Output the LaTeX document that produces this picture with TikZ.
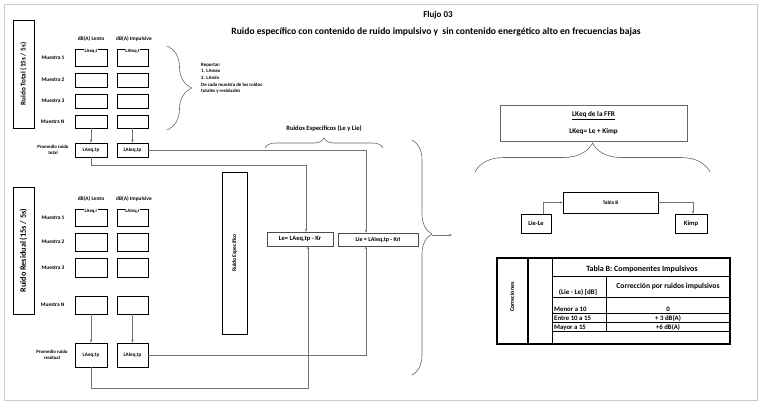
\documentclass[tikz,border=0pt]{standalone}
\usepackage{fontspec}
\setmainfont{Carlito}
\usetikzlibrary{arrows.meta,decorations.pathreplacing}
\newcommand{\tam}[2]{\fontsize{#1}{#2}\selectfont\bfseries}

\begin{document}
\begin{tikzpicture}[x=1pt,y=-1pt,
  caja/.style={draw,line width=0.7pt,inner sep=1pt},
  linea/.style={draw=black!55,line width=0.5pt},
  flecha/.style={linea,-{Stealth[length=3pt,width=2.4pt]}},
  llave/.style={draw=black!60,line width=0.6pt,decorate,decoration={brace,amplitude=#1}},
  muestra/.style={anchor=east,font=\tam{5.4}{6}},
  etiq/.style={fill=white,inner sep=0.8pt,font=\tam{4.8}{5}},
  fila/.style={inner sep=0pt,font=\tam{6.8}{7}},
]
\useasboundingbox (0,0) rectangle (767,408);
\draw[black!20,line width=0.8pt] (4,4) rectangle (757,400);

% titulo
\node[font=\tam{9}{10}] (titulo) at (438,15) {Flujo 03};
\node[font=\tam{9.6}{11}] (subtitulo) at (436,32) {Ruido específico con contenido de ruido impulsivo y \ sin contenido energético alto en frecuencias bajas};

% ruido total
\node[caja,rotate=90,minimum width=108,minimum height=21,font=\tam{7.2}{8}] (rtotal) at (23.5,74) {Ruido Total (15s / 5s)};
\node[font=\tam{5.4}{6}] (hlentoT) at (91,39) {dB(A) Lento};
\node[font=\tam{5.4}{6}] (himpT) at (134,39) {dB(A) Impulsivo};

\node[muestra] (m1T) at (68,57.5) {Muestra 1};
\node[muestra] (m2T) at (68,80) {Muestra 2};
\node[muestra] (m3T) at (68,101) {Muestra 3};
\node[muestra] (mNT) at (68,121.5) {Muestra N};

\node[caja,minimum width=32,minimum height=17] (t1a) at (91,57.5) {};
\node[caja,minimum width=31,minimum height=17] (t1i) at (132.5,57.5) {};
\node[etiq] (t1aLab) at (91,51) {LAeq,t};
\node[etiq] (t1iLab) at (132.5,51) {LAIeq,t};
\node[caja,minimum width=32,minimum height=14] (t2a) at (91,80) {};
\node[caja,minimum width=31,minimum height=14] (t2i) at (132.5,80) {};
\node[caja,minimum width=32,minimum height=14] (t3a) at (91,101) {};
\node[caja,minimum width=31,minimum height=14] (t3i) at (132.5,101) {};
\node[caja,minimum width=32,minimum height=13] (tNa) at (91,121.5) {};
\node[caja,minimum width=31,minimum height=13] (tNi) at (132.5,121.5) {};

\node[caja,minimum width=32,minimum height=14,font=\tam{5.2}{6}] (ptA) at (91,150) {LAeq,tp};
\node[caja,minimum width=31,minimum height=14,font=\tam{5.2}{6}] (ptI) at (132.5,150) {LAIeq,tp};
\node[align=center,font=\tam{4.8}{6.5}] (promT) at (53,150) {Promedio ruido\\total};

\draw[flecha] (tNa) -- (ptA);
\draw[flecha] (tNi) -- (ptI);

\draw[llave=25] (167,46) -- (167,130);
\node[anchor=north west,align=left,inner sep=0pt,font=\tam{4.9}{6.6}] (reportar) at (201,63)
  {Reportar:\\1. LAmax\\2. LAmin\\De cada muestra de los ruidos\\totales y residuales};

% ruido residual
\node[caja,rotate=90,minimum width=127,minimum height=21,font=\tam{8.2}{9}] (rres) at (23.5,250.5) {Ruido Residual (15s / 5s)};
\node[font=\tam{5.4}{6}] (hlentoR) at (91,199) {dB(A) Lento};
\node[font=\tam{5.4}{6}] (himpR) at (134,199) {dB(A) Impulsivo};

\node[muestra] (m1R) at (68,217.5) {Muestra 1};
\node[muestra] (m2R) at (68,242) {Muestra 2};
\node[muestra] (m3R) at (68,267.5) {Muestra 3};
\node[muestra] (mNR) at (68,305) {Muestra N};

\node[caja,minimum width=32,minimum height=17] (r1a) at (91,217.5) {};
\node[caja,minimum width=31,minimum height=17] (r1i) at (132.5,217.5) {};
\node[etiq] (r1aLab) at (91,211) {LAeq,r};
\node[etiq] (r1iLab) at (132.5,211) {LAIeq,r};
\node[caja,minimum width=32,minimum height=18] (r2a) at (91,242) {};
\node[caja,minimum width=31,minimum height=18] (r2i) at (132.5,242) {};
\node[caja,minimum width=32,minimum height=19] (r3a) at (91,267.5) {};
\node[caja,minimum width=31,minimum height=19] (r3i) at (132.5,267.5) {};
\node[caja,minimum width=32,minimum height=18] (rNa) at (91,305) {};
\node[caja,minimum width=31,minimum height=18] (rNi) at (132.5,305) {};

\node[caja,minimum width=32,minimum height=24,font=\tam{5.2}{6}] (prA) at (91,355) {LAeq,tp};
\node[caja,minimum width=31,minimum height=24,font=\tam{5.2}{6}] (prI) at (132.5,355) {LAIeq,tp};
\node[align=center,font=\tam{4.8}{6.5}] (promR) at (52,355) {Promedio ruido\\residual};

\draw[flecha] (rNa) -- (prA);
\draw[flecha] (rNi) -- (prI);

% ruido especifico
\node[caja,rotate=90,minimum width=162,minimum height=25,font=\tam{5.6}{6}] (resp) at (234.5,253) {Ruido Específico};

\node[caja,draw=black!70,line width=0.5pt,minimum width=66,minimum height=14,font=\tam{6.5}{7}] (le) at (300,239) {Le= LAeq,tp - Kr};
\node[caja,draw=black!70,line width=0.5pt,minimum width=80,minimum height=13,font=\tam{6}{7}] (lie) at (378,239.5) {Lie = LAIeq,tp - Kri};

\draw[flecha] (ptI.east) -| ([xshift=-12pt]lie.north);
\draw[flecha] (ptA.south) -- ++(0,8) -| ([xshift=6pt]le.north);
\draw[flecha] (prI.east) -| ([xshift=-12pt]lie.south);
\draw[flecha] (prA.south) -- ++(0,21) -| ([xshift=8pt]le.south);

\draw[llave=10] (265,148) -- (383,148);
\node[font=\tam{6.6}{7}] (resplab) at (324,129) {Ruidos Específicos (Le y Lie)};

\draw[draw=black!60,line width=0.6pt,decorate,decoration={brace,amplitude=20,aspect=0.4}] (412,140) -- (412,375);
\coordinate (puntaR) at (432,235);
\coordinate (finR) at (452,235);
\draw[flecha] (puntaR) -- (finR);

% lado derecho
\node[caja,draw=black!60,line width=0.6pt,minimum width=187,minimum height=36,align=center,font=\tam{7.2}{8}] (lkeq) at (593.5,123)
  {\underline{LKeq de la FFR}\\[8pt]LKeq= Le + Kimp};
\draw[llave=29] (475,172) -- (710,172);

\node[caja,minimum width=95,minimum height=21,font=\tam{5.2}{6}] (tablaB) at (610.5,202.5) {Tabla B};
\node[caja,minimum width=30,minimum height=19,font=\tam{6.4}{7}] (liele) at (536,223.5) {Lie-Le};
\node[caja,minimum width=32,minimum height=19,font=\tam{6.6}{7}] (kimp) at (691,223.5) {Kimp};
\draw[flecha] ([xshift=7pt]liele.north) |- (tablaB.west);
\draw[flecha] (tablaB.east) -| ([xshift=2pt]kimp.north);

% tabla de correcciones
\draw[line width=1.1pt] (497,258) rectangle (730,344);
\draw[line width=1.1pt] (528,258) -- (528,344);
\draw[line width=0.6pt] (552,258) -- (552,344);
\draw[line width=0.6pt] (552,276) -- (730,276);
\draw[line width=0.9pt] (552,297) -- (730,297);
\draw[line width=0.6pt] (552,313) -- (730,313);
\draw[line width=0.6pt] (552,322) -- (730,322);
\draw[line width=0.6pt] (552,331) -- (730,331);
\draw[line width=0.6pt] (606,276) -- (606,331);

\node[rotate=90,font=\tam{6}{7}] (correc) at (512,297) {Correciones};
\node[font=\tam{8}{9}] (tabtit) at (642,269) {Tabla B: Componentes Impulsivos};
\node[font=\tam{7}{8}] (col1) at (578,292) {(Lie - Le) [dB]};
\node[font=\tam{7.6}{8}] (col2) at (668,286) {Corrección por ruidos impulsivos};
\node[fila,anchor=base west] (fila1) at (554,311.2) {Menor a 10};
\node[fila,anchor=base west] (fila2) at (554,320.4) {Entre 10 a 15};
\node[fila,anchor=base west] (fila3) at (554,329.4) {Mayor a 15};
\node[fila,anchor=base] (val1) at (668,311.2) {0};
\node[fila,anchor=base] (val2) at (668,320.4) {+ 3 dB(A)};
\node[fila,anchor=base] (val3) at (668,329.4) {+6 dB(A)};
\end{tikzpicture}
\end{document}
